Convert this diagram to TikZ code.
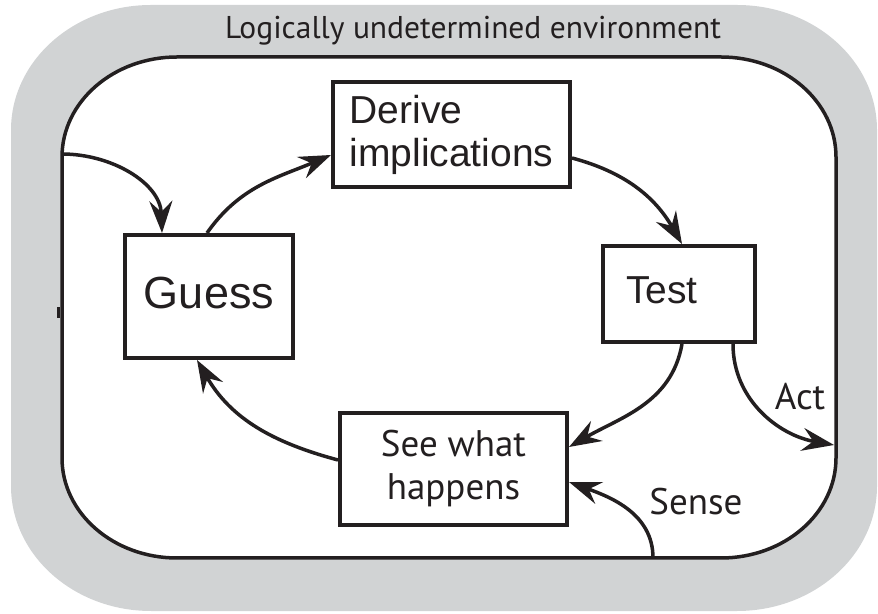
\documentclass[tikz,border=0pt]{standalone}
\usepackage{fontspec}
\setmainfont{Liberation Sans}
\newfontfamily\myr{PT Sans}
\usetikzlibrary{arrows.meta}
\definecolor{envgray}{RGB}{209,211,212}
\definecolor{ink}{RGB}{35,31,32}
\begin{document}
\begin{tikzpicture}[x=1pt,y=1pt,
  box/.style={draw=ink, line width=4pt, fill=white, inner sep=0pt, text=ink},
  arr/.style={draw=ink, line width=3.5pt, -{Stealth[length=32pt,width=23pt,inset=11pt]}},
  lbl/.style={text=ink, inner sep=0pt, anchor=base}]
\useasboundingbox (0,0) rectangle (878,613);
% gray environment
\fill[envgray] (151,608) -- (737,608) arc[start angle=90,end angle=0,x radius=140,y radius=125]
  -- (877,127) arc[start angle=0,end angle=-90,x radius=140,y radius=125]
  -- (151,2) arc[start angle=270,end angle=180,x radius=140,y radius=125]
  -- (11,483) arc[start angle=180,end angle=90,x radius=140,y radius=125] -- cycle;
% inner region
\filldraw[fill=white, draw=ink, line width=3.5pt] (177,556) -- (721,556) arc[start angle=90,end angle=0,x radius=115,y radius=100]
  -- (836,155) arc[start angle=0,end angle=-90,x radius=115,y radius=100]
  -- (177,55) arc[start angle=270,end angle=180,x radius=115,y radius=100]
  -- (62,456) arc[start angle=180,end angle=90,x radius=115,y radius=100] -- cycle;
\fill[ink] (57,295) rectangle (59.5,306);
\node[lbl] (env) at (473,574) {\myr\fontsize{31.5}{36}\selectfont Logically undetermined environment};
% boxes
\node[box, minimum width=237pt, minimum height=105pt, align=left, font=\fontsize{39}{43}\selectfont] (derive) at (451.5,478.5) {Derive\\implications};
\node[box, minimum width=168pt, minimum height=123pt, font=\fontsize{45}{50}\selectfont] (guess) at (209,316.5) {\raisebox{7pt}{Guess}};
\node[box, minimum width=152pt, minimum height=96pt, font=\fontsize{39}{43}\selectfont] (test) at (679,319) {\hspace*{-34pt}\raisebox{7pt}{Test}};
\node[box, minimum width=227pt, minimum height=112pt, align=center, font=\myr\fontsize{37}{43}\selectfont] (see) at (453.5,144) {See what\\happens};
% connectors
\coordinate (inL) at (62,459);
\coordinate (actEnd) at (834,168);
\coordinate (senseStart) at (653,55);
\draw[arr] (inL) to[out=0,in=92] ([xshift=-47pt]guess.north);
\draw[arr] ([xshift=-2pt]guess.north) to[out=55,in=203] ([yshift=-20.5pt]derive.west);
\draw[arr] ([yshift=-23.5pt]derive.east) to[out=-15,in=120] ([xshift=3pt]test.north);
\draw[arr] ([xshift=3pt]test.south) to[out=-100,in=30] ([yshift=22pt]see.east);
\draw[arr] ([yshift=9pt]see.west) to[out=165,in=-60] ([xshift=-12pt]guess.south);
\draw[arr] ([xshift=54pt]test.south) to[out=-90,in=170] (actEnd);
\draw[arr] (senseStart) to[out=90,in=-20] ([yshift=-13pt]see.east);
\node[lbl, font=\myr\fontsize{37}{43}\selectfont] (act) at (800,203) {Act};
\node[lbl, font=\myr\fontsize{37}{43}\selectfont] (sense) at (696,98) {Sense};
\end{tikzpicture}
\end{document}
